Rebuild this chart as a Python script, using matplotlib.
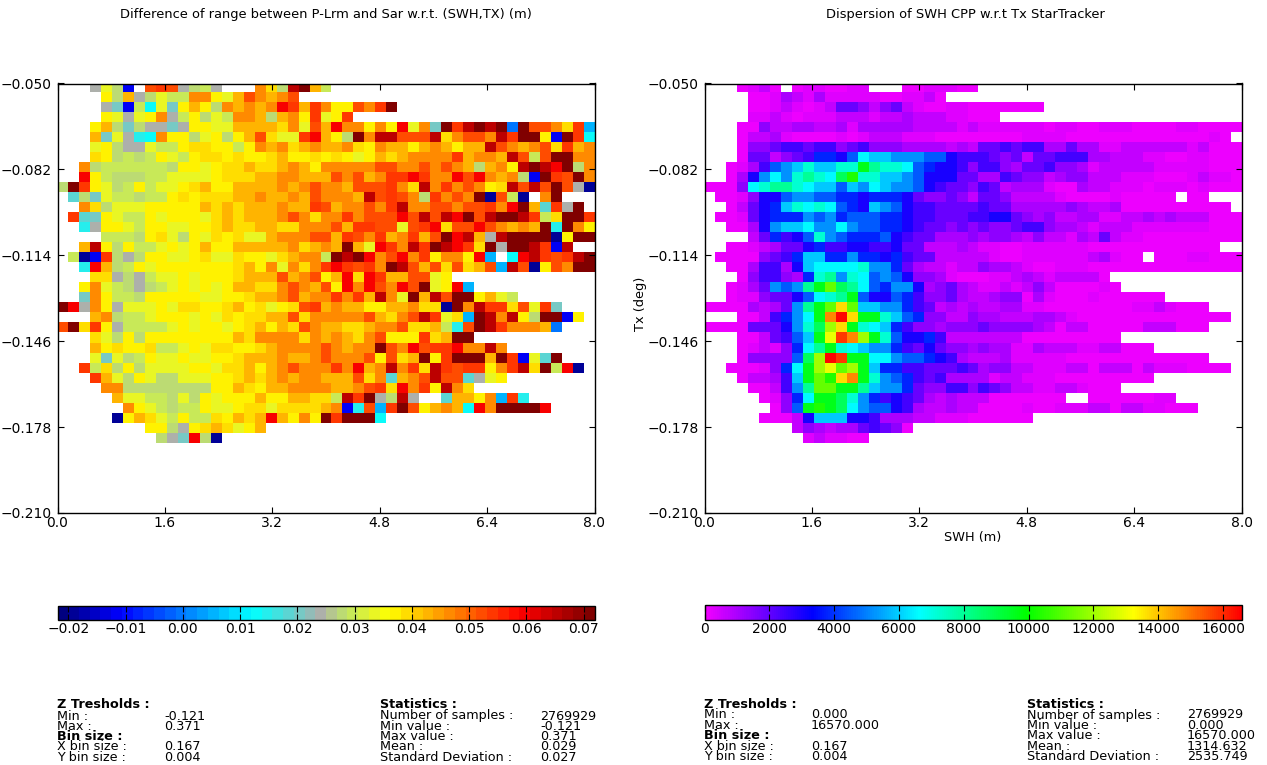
import numpy as np
import matplotlib
matplotlib.use("Agg")
import matplotlib.pyplot as plt
from matplotlib.colors import LinearSegmentedColormap

# grids, top row first, one letter per bin, . = no data
range_rows = [
"...gyqb.frfgqlg...Odqskol",
"....YqogqyllOOYyofOoOf",
"....ghblCyhYoYqOoOoORrorOYYfOrk",
"....YygyYOglYqylOOoqoOYryYr",
"...YoqhqgghgYYyyoooodOyfoROOYOYRyOhkrskskakffOdrc",
"...ohygtCOYYqyYqYofdyyrRoYqkOssfffsdOffOsrkkYbkrC",
"...yYqggyllYddYYlYOoOdoOooOdYOooYoOoYoosfOoOfdroO",
"...dYqlqlYylYddYdYYdoYYdYdYyYodoOOOOroOOosflfkkOO",
"..OqllllllqYYyYddoddoOoYOOOOOffOOfOfOoqoOYsksRkqO",
"..RYlqqqllyyyyYdddooOOooofOfoOrrRrOORfROoOqbkrfkO",
"qkrYyqlYlyyYdoYYooooOoOfOOofffrOdsOrOfOYdsfsfkfgn",
".mqhyllqllYdYdddooOooOofOOOosfrfOqrOfOknfln.Ok",
"..OdqyyyYYYYYododoooOoorfoOOfOrsOOffOffrORkomrgk",
".rmhYyllYyYYYydodoooOfOdOOrOfffRfsfsRkfskksrldkkr",
"..tgYYylYYyyYYdoddooddOOOforrffyfrRdffRfOoOoktkOY",
"....lllqYdyqYydYdyyoOOOfforfOroOrofkRsogskkkknYkk",
"..osYqYllyYyYoYYoooooOdoOokoyRrOsrksRrdkgkksrbs",
".lnbrqgqYYyyYdyydYYydoOOlkskROfROrYOOYRc.CRsrfrsk",
"..tRoqlYyYYYYYYYdoYOyOdOrRrfrOksfofdfdofcsfnYfOkk",
"...ddgqglyyYyYYYdooofoOfYoRdRrooffyY",
"..YOylqgqlyYyYyYooddOfOofYRORfORfkyYRc",
"..hOYllqYYYYYyyYYdooOfoOOrOrosOykosfkkYoyl",
"kRgOYgyyyYyddYYdoYdyYdfroOooYYooOddnkOsrrdfyrh",
"...oOqllyYYYyYydYddoofdOOOOOfodOfsrydcksOsYqkkbY",
"fkdrYgllllyYyYYyYdoYodfOooddoOOfddoltfksrOOOoa",
"...dyqYqYYYYYYYYodOOOOdOoOodOfYYYrdokk",
"...oYdYYdllyYyddYYdoOOOOfOoOOkfORfrrROOsO",
"...yhyqlYyyYyyYYdoooOooOfOOOfYfdokYrkkkokrbymk",
"..rldqYqyyyyYYyddoYoOfOOOrORoOsOrdsrfrrYOrsdklRn",
"...royqYyqqyyyYYdodoOoOOooofdOmoOfsffmgyY",
"....OOqqqqqqqqYYodYooOOOOooOfrdROrYsOd",
".....oyyllqyqYyYYYoYYooddlsrkgqsg..mooYOcrt",
"......OYylqllYyyYddyddddoObtfcrkfYoOoCROkkkkR",
".....nYodylYlldYodoRoYOYkrkkkC",
"........YYqgYdodyYo",
".........qghRqn",
]

count_rows = [
"...abca.abbaabb...aabbbaa",
"....aabdcbdbbbbbaabbca",
"....aabcbabcffecefcbaabbaaaaaaa",
"....bbcbabbbcccbccdcccbbaaa",
"...aaeccddccdbdddddccccbcbbbbbbabbaabbbaaaabbaaaa",
"...accdbaaaababcccbbbaaaaaaaabbbbaaaaaaaaaaaaaba",
"...aeefggfggefgeeeddddcdcffgfggddfddbbccccccbcaaa",
"...affcefgiihjmllkkkjjhgggfefcffgggddcccbbaabbaaa",
"..abdgjklnllnnqonnmjihhgeggedffgeedbcccccbbbbbaaa",
"..adhkmknonmprnnllkjhhhffddgfeecdeecccbbbaaabcbba",
"aaaemnoonmlljlkmlkkjhgffegfcdddbaadccbbbabbbabaaa",
".aabehhjkkjjiihiiihfeefecffeccccbaaaabaaaaa.aa",
"..acfhilnmnmjihlkjhggffffgffdddddedccdaaaaaaaaaa",
".aabfhiiikjkijjjiihggfffgghhfedeccddbbccdcdcccaaa",
"..aadhkllmkkmkjjiihgffefefeefggeddcbcccbbbbbbbaaa",
"....cfighjnkjiiijhgffdddedeedceccbdcfcbbaaaaaaaaa",
"..aabcdffhigghhgghffcccdcbbaabbbbbbaaaaaaaaaaaa",
".aaaaefgilliikiihigffcccccbaabbbbbbcdbaa.aaabbaaa",
"..aadggdhlmmmmnkkifdccbcceddcbaabbbaaaaaaaaaaaaaa",
"...aeggedinoknmjkjheedbaaabbcdcbcccca",
"..abdfkjkoqspomjikkhdefdcbbcbcecaaaaba",
"..abbeffhjmnoqjhhjigeefdccdeeadbaaabaaaaaa",
"aaaadcdfkoqsvsllkkigfcdcdccddbbaaaaaaaabbcbaaa",
"...aacgikmqwyvqqnljieecceddcccddcbaaaaaaaaaaaaaa",
"aaaafffhknptvqnmligeedeeefeeeedcaccaaaaacccaaa",
"...aacfgjlquxwtqnjhhigcccccccaaaaaaaaa",
"...abcbeimoqnmlkkigfhfeededdbbdcccbbccaaa",
"...aeeeejptyxqqmmkjjihgdcccdbbbbbaaaaaaaaaaaaa",
"..aaabeimqtustqliiggfffgfdeeccbbbccacccacbbbaaaa",
"...accdglqsrvwqnkjigfgddddbccbbbaaaaaaaaa",
"....aacgkossqqolkkifeeggegfeccbbccbaaa",
".....abeimqqpnkighgfdcdcccaaaaaaa..aaaaaabb",
"......aejqrqpmkjjhgdccdccaaaabaabbbccaccbbaaa",
".....aaachlllhhgdddccbbbaaaaaa",
"........cedcddfgfea",
".........bcbbaa",
]

# value behind each letter
range_levels = {"n": -0.020, "b": -0.0116, "a": 0.0001, "c": 0.0059, "C": 0.0119,
                "t": 0.0147, "m": 0.0184, "h": 0.0212, "g": 0.0241, "q": 0.0269,
                "l": 0.0297, "y": 0.0328, "Y": 0.0363, "d": 0.0400, "o": 0.0428,
                "O": 0.0466, "f": 0.0513, "r": 0.0550, "R": 0.0597, "s": 0.0644,
                "k": 0.0705}
count_levels = {"a": 100, "b": 300, "c": 650, "d": 1000, "e": 1400, "f": 1900,
                "g": 2400, "h": 3000, "i": 3800, "j": 4500, "k": 5200, "l": 5900,
                "m": 6600, "n": 7200, "o": 8000, "p": 8800, "q": 9600, "r": 10300,
                "s": 11200, "t": 12000, "u": 13000, "v": 13700, "w": 14800,
                "x": 15800, "y": 16500}

x_ticks = [0.0, 1.6, 3.2, 4.8, 6.4, 8.0]
y_ticks = [-0.210, -0.178, -0.146, -0.114, -0.082, -0.050]
range_cb_ticks = [-0.02, -0.01, 0.00, 0.01, 0.02, 0.03, 0.04, 0.05, 0.06, 0.07]
count_cb_ticks = [0, 2000, 4000, 6000, 8000, 10000, 12000, 14000, 16000]

left_title = "Difference of range between P-Lrm and Sar w.r.t. (SWH,TX) (m)"
right_title = "Dispersion of SWH CPP w.r.t Tx StarTracker"

left_info = ["-0.121", "0.371", "0.167", "0.004"]
left_stats = ["2769929", "-0.121", "0.371", "0.029", "0.027"]
right_info = ["0.000", "16570.000", "0.167", "0.004"]
right_stats = ["2769929", "0.000", "16570.000", "1314.632", "2535.749"]

W, H = 1267, 765
n_x, n_y = 49, 43
x_edges = np.linspace(0, 8, n_x + 1)
y_edges = -0.21 + 0.003736 * np.arange(n_y + 1)

plt.rcParams["font.family"] = "DejaVu Sans"
plt.rcParams["font.size"] = 10
plt.rcParams["axes.linewidth"] = 1.0


def to_grid(rows, levels):
    grid = np.full((n_y, n_x), np.nan)
    for i, row in enumerate(rows):
        for j, ch in enumerate(row[:n_x]):
            if ch != ".":
                grid[n_y - 1 - i, j] = levels[ch]
    return np.ma.masked_invalid(grid)


def px_axes(fig, x0, y0, x1, y1):
    return fig.add_axes([x0 / W, 1 - y1 / H, (x1 - x0) / W, (y1 - y0) / H])


range_cmap = LinearSegmentedColormap.from_list("range", [
    (0.0, (0, 0, 0.5)), (0.11, (0, 0, 1)), (0.36, (0, 1, 1)),
    (0.49, (0.68, 0.69, 0.67)), (0.54, (0.75, 0.9, 0.4)), (0.62, (1, 1, 0)),
    (0.87, (1, 0, 0)), (1.0, (0.5, 0, 0))], N=50)
count_cmap = LinearSegmentedColormap.from_list("count", [
    (0.0, (0.95, 0, 1)), (0.2, (0, 0, 1)), (0.4, (0, 1, 1)),
    (0.6, (0, 1, 0)), (0.8, (1, 1, 0)), (1.0, (1, 0, 0))], N=256)

fig = plt.figure(figsize=(W / 100, H / 100), dpi=100)


def panel(x0, rows, levels, cmap, vmin, vmax, title, title_x, cb_ticks, cb_fmt, cb_top):
    ax = px_axes(fig, x0, 83.5, x0 + 537, 513)
    mesh = ax.pcolormesh(x_edges, y_edges, to_grid(rows, levels), cmap=cmap,
                         vmin=vmin, vmax=vmax, antialiased=False)
    ax.set_xlim(0, 8)
    ax.set_ylim(-0.21, -0.05)
    ax.set_xticks(x_ticks)
    ax.set_yticks(y_ticks)
    ax.set_xticklabels(["%.1f" % v for v in x_ticks])
    ax.set_yticklabels(["\u2212%.3f" % abs(v) for v in y_ticks])
    ax.tick_params(direction="in", top=True, right=True, length=4, width=0.8)
    ax.tick_params(axis="x", pad=2)
    ax.tick_params(axis="y", pad=4)
    fig.text(title_x / W, 1 - 14.5 / H, title, ha="center", va="center", fontsize=9.4)

    cax = px_axes(fig, x0, cb_top, x0 + 537, cb_top + 14.5)
    cb = fig.colorbar(mesh, cax=cax, orientation="horizontal", ticks=cb_ticks)
    cb.ax.set_xticklabels([cb_fmt(v) for v in cb_ticks])
    cb.ax.tick_params(direction="in", top=True, bottom=True, length=4, width=0.8, pad=1.5)
    return ax


def fmt_range(v):
    return ("\u2212%.2f" % abs(v)) if v < 0 else "%.2f" % v


ax1 = panel(57.5, range_rows, range_levels, range_cmap, -0.0219, 0.0719, left_title, 326,
            range_cb_ticks, fmt_range, 605.5)
ax2 = panel(704.5, count_rows, count_levels, count_cmap, 0, 16570, right_title, 965,
            count_cb_ticks, lambda v: "%d" % v, 605)
ax2.set_xlabel("SWH (m)", fontsize=9.3)
ax2.xaxis.set_label_coords(0.5, -0.042)
ax2.set_ylabel("Tx (deg)", fontsize=9.3)
ax2.yaxis.set_label_coords(-0.108, 0.486)


def info_block(x0, x_val, x_stat, x_stat_val, top, info, stats):
    labels = ["Min :", "Max :", None, "X bin size :", "Y bin size :"]
    ys = [top + 11, top + 21.3, top + 31.5, top + 42, top + 52.5]
    fs = 9.2
    fig.text(x0 / W, 1 - top / H, "Z Tresholds :", weight="bold", va="center", fontsize=fs)
    fig.text(x0 / W, 1 - ys[2] / H, "Bin size :", weight="bold", va="center", fontsize=fs)
    vals = [info[0], info[1], None, info[2], info[3]]
    for lab, val, y in zip(labels, vals, ys):
        if lab is None:
            continue
        fig.text(x0 / W, 1 - y / H, lab, va="center", fontsize=fs)
        fig.text(x_val / W, 1 - y / H, val, va="center", fontsize=fs)
    fig.text(x_stat / W, 1 - top / H, "Statistics :", weight="bold", va="center", fontsize=fs)
    stat_labels = ["Number of samples :", "Min value :", "Max value :", "Mean :",
                   "Standard Deviation :"]
    for lab, val, y in zip(stat_labels, stats, ys):
        fig.text(x_stat / W, 1 - y / H, lab, va="center", fontsize=fs)
        fig.text(x_stat_val / W, 1 - y / H, val, va="center", fontsize=fs)


info_block(57, 164.5, 380, 540, 705, left_info, left_stats)
info_block(704.5, 811, 1027, 1187, 704, right_info, right_stats)

fig.savefig("out.png", dpi=100)
